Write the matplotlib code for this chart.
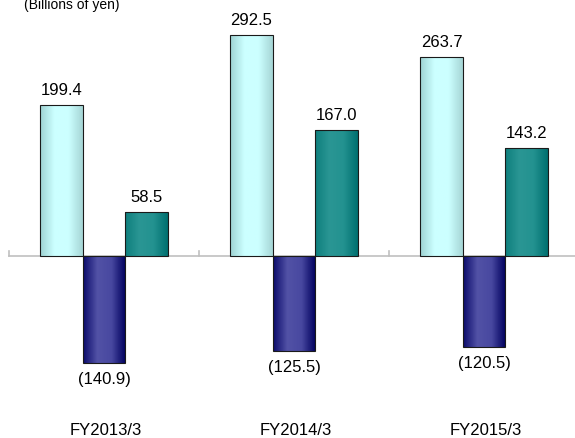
import numpy as np
import matplotlib.pyplot as plt
from matplotlib.colors import LinearSegmentedColormap

plt.rcParams['font.family'] = ['Liberation Sans', 'DejaVu Sans']

categories = ["FY2013/3", "FY2014/3", "FY2015/3"]
series_a = [199.4, 292.5, 263.7]     # light cyan
series_b = [-140.9, -125.5, -120.5]  # dark blue
series_c = [58.5, 167.0, 143.2]      # teal
unit_label = "(Billions of yen)"

# horizontal gradients (edge -> light centre -> edge) for each series
grads = [
    ["#9ed3d3", "#ccffff", "#ccffff", "#a6d6d6"],
    ["#0c0c6c", "#5252a6", "#4848a0", "#00005e"],
    ["#0e7f7d", "#2a9694", "#239290", "#007070"],
]

fig = plt.figure(figsize=(5.75, 4.38), dpi=100)
ax = fig.add_axes([0, 0, 1, 1])
ax.set_axis_off()

px_per_cat = 190.0
x_left = -0.5 - 9 / px_per_cat
x_right = x_left + 575 / px_per_cat
ax.set_xlim(x_left, x_right)
px_per_unit = 0.756
ax.set_ylim(-(438 - 256) / px_per_unit, 256 / px_per_unit)

x = np.arange(len(categories))
w = 0.224
offsets = [-w, 0, w]


def grad_bars(xpos, vals, stops):
    cmap = LinearSegmentedColormap.from_list("g", stops)
    bars = ax.bar(xpos, vals, w, facecolor="none", edgecolor="#1a1a1a",
                  linewidth=0.8, zorder=3)
    img = np.linspace(0, 1, 64).reshape(1, -1)
    for b in bars:
        x0, y0 = b.get_x(), b.get_y()
        im = ax.imshow(img, cmap=cmap, aspect="auto", zorder=2,
                       extent=[x0, x0 + b.get_width(), y0, y0 + b.get_height()])
        im.set_clip_path(b)
    return bars


for vals, off, stops in zip([series_a, series_b, series_c], offsets, grads):
    grad_bars(x + off, vals, stops)
    for xi, v in zip(x + off, vals):
        if v >= 0:
            ax.annotate(f"{v:.1f}", (xi, v), xytext=(0, 7), textcoords="offset pixels",
                        ha="center", va="bottom", fontsize=12)
        else:
            ax.annotate(f"({-v:.1f})", (xi, v), xytext=(0, -9), textcoords="offset pixels",
                        ha="center", va="top", fontsize=12)

# baseline and category separators
ax.plot([-0.5, x_right], [0, 0], color="#c0c0c0", lw=1.2, zorder=1)
for b in np.arange(-0.5, len(categories), 1.0):
    ax.plot([b, b], [0, 7], color="#c0c0c0", lw=1.2, zorder=1)

for xi, c in zip(x, categories):
    ax.text(xi + 0.01, -231, c, ha="center", va="center", fontsize=12)

fig.text(24 / 575, 1 + 2 / 438, unit_label, ha="left", va="top", fontsize=10)

fig.savefig("out.png", dpi=100)
